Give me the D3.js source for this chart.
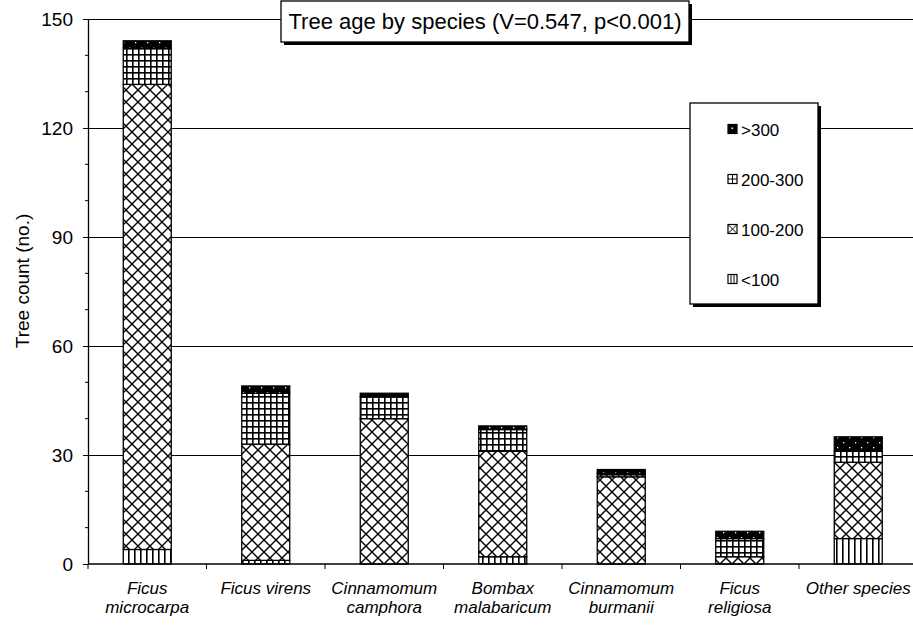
<!DOCTYPE html>
<html>
<head>
<meta charset="utf-8">
<script src="https://cdn.jsdelivr.net/npm/d3@7/dist/d3.min.js"></script>
<style>
  html, body { margin: 0; padding: 0; background: #fff; }
  svg { display: block; font-family: "Liberation Sans", Arial, Helvetica, sans-serif; }
</style>
</head>
<body>
<svg id="chart" width="913" height="625"></svg>
<script>
// Species (each label split into display lines with "|")
const categories = [
  "Ficus|microcarpa", "Ficus virens", "Cinnamomum|camphora", "Bombax|malabaricum",
  "Cinnamomum|burmanii", "Ficus|religiosa", "Other species"
];
// Age classes, bottom to top of each stack
const ageClasses = ["<100", "100-200", "200-300", ">300"];
// Tree counts per age class, one entry per species
const under100   = [4, 1, 0, 2, 0, 0, 7];
const age100_200 = [128, 32, 40, 29, 24, 2, 21];
const age200_300 = [10, 14, 6, 6, 1, 5, 3];
const over300    = [2, 2, 1, 1, 1, 2, 4];
const yTicks = [0, 30, 60, 90, 120, 150];
const yMinorTicks = [10, 20, 40, 50, 70, 80, 100, 110, 130, 140];
const titleText = "Tree age by species (V=0.547, p<0.001)";
const yLabel = "Tree count (no.)";

const rows = categories.map((c, i) => ({
  cat: c,
  "<100": under100[i],
  "100-200": age100_200[i],
  "200-300": age200_300[i],
  ">300": over300[i]
}));

const svg = d3.select("#chart");
const plot = { left: 88, right: 917.5, top: 19, bottom: 564 };

const x = d3.scaleBand().domain(categories).range([plot.left, plot.right])
  .paddingInner(0.595).paddingOuter(0.2975);
const y = d3.scaleLinear().domain([0, 150]).range([plot.bottom, plot.top]);

// Hatch patterns for the age classes
const defs = svg.append("defs");
const pVert = defs.append("pattern").attr("id", "pat-vert")
  .attr("patternUnits", "userSpaceOnUse").attr("width", 6).attr("height", 10);
pVert.append("rect").attr("width", 6).attr("height", 10).attr("fill", "#fff");
pVert.append("rect").attr("x", 2).attr("width", 1.6).attr("height", 10).attr("fill", "#000");

const pCross = defs.append("pattern").attr("id", "pat-cross")
  .attr("patternUnits", "userSpaceOnUse").attr("width", 12).attr("height", 12);
pCross.append("rect").attr("width", 12).attr("height", 12).attr("fill", "#fff");
pCross.append("path")
  .attr("d", "M-1,-1L13,13M13,-1L-1,13")
  .attr("stroke", "#000").attr("stroke-width", 1.4).attr("fill", "none");

const pGrid = defs.append("pattern").attr("id", "pat-grid")
  .attr("patternUnits", "userSpaceOnUse").attr("width", 6).attr("height", 6);
pGrid.append("rect").attr("width", 6).attr("height", 6).attr("fill", "#fff");
pGrid.append("rect").attr("width", 6).attr("height", 1.6).attr("fill", "#000");
pGrid.append("rect").attr("width", 1.6).attr("height", 6).attr("fill", "#000");

const pDots = defs.append("pattern").attr("id", "pat-dots")
  .attr("patternUnits", "userSpaceOnUse").attr("width", 12).attr("height", 10);
pDots.append("rect").attr("width", 12).attr("height", 10).attr("fill", "#000");
pDots.append("rect").attr("x", 3).attr("y", 2).attr("width", 1.3).attr("height", 1.3).attr("fill", "#fff");
pDots.append("rect").attr("x", 9).attr("y", 7).attr("width", 1.3).attr("height", 1.3).attr("fill", "#fff");

const fills = {
  "<100": "url(#pat-vert)",
  "100-200": "url(#pat-cross)",
  "200-300": "url(#pat-grid)",
  ">300": "url(#pat-dots)"
};

// Horizontal gridlines
svg.append("g").selectAll("line").data(yTicks.filter(d => d > 0)).join("line")
  .attr("x1", plot.left).attr("x2", plot.right)
  .attr("y1", d => Math.round(y(d)) + 0.5).attr("y2", d => Math.round(y(d)) + 0.5)
  .attr("stroke", "#000").attr("stroke-width", 1.2);

// Stacked bars
const series = d3.stack().keys(ageClasses)(rows);
svg.append("g").selectAll("g").data(series).join("g")
  .attr("fill", s => fills[s.key])
  .selectAll("rect").data(s => s.filter(d => d[1] > d[0])).join("rect")
  .attr("x", d => x(d.data.cat))
  .attr("width", x.bandwidth())
  .attr("y", d => y(d[1]))
  .attr("height", d => y(d[0]) - y(d[1]))
  .attr("stroke", "#000").attr("stroke-width", 1.3);

// Y axis with major and minor ticks
const yAxis = svg.append("g").attr("transform", `translate(${plot.left},0)`)
  .call(d3.axisLeft(y).tickValues(yTicks).tickSize(5).tickPadding(10).tickSizeOuter(0));
yAxis.select(".domain").attr("stroke-width", 1.3);
yAxis.selectAll("text").attr("font-size", 19).attr("fill", "#000")
  .attr("font-family", "'Liberation Sans', Arial, sans-serif");
svg.append("g").selectAll("line").data(yMinorTicks).join("line")
  .attr("x1", plot.left - 3).attr("x2", plot.left)
  .attr("y1", d => y(d)).attr("y2", d => y(d))
  .attr("stroke", "#000").attr("stroke-width", 1);

// X axis baseline and ticks at the category boundaries
const gap = (x.step() - x.bandwidth()) / 2;
const boundaries = categories.map(c => x(c) - gap).concat([plot.right]);
svg.append("line")
  .attr("x1", plot.left).attr("x2", plot.right)
  .attr("y1", y(0)).attr("y2", y(0))
  .attr("stroke", "#000").attr("stroke-width", 1.5);
svg.append("g").selectAll("line").data(boundaries).join("line")
  .attr("x1", d => d).attr("x2", d => d)
  .attr("y1", y(0)).attr("y2", y(0) + 5)
  .attr("stroke", "#000").attr("stroke-width", 1);

// Category labels (italic, up to two lines)
const catLabels = svg.append("g").attr("font-size", 17).attr("font-style", "italic")
  .attr("text-anchor", "middle").attr("fill", "#000");
categories.forEach(c => {
  const t = catLabels.append("text")
    .attr("x", x(c) + x.bandwidth() / 2).attr("y", 594);
  c.split("|").forEach((line, i) => {
    t.append("tspan").attr("x", x(c) + x.bandwidth() / 2)
      .attr("dy", i === 0 ? 0 : 19).text(line);
  });
});

// Y axis title
svg.append("text")
  .attr("transform", "translate(29,281) rotate(-90)")
  .attr("text-anchor", "middle").attr("font-size", 19).attr("fill", "#000")
  .text(yLabel);

// Title box with drop shadow
const tb = { x: 281, y: 1, w: 408, h: 41 };
svg.append("rect").attr("x", tb.x + 3).attr("y", tb.y + 3).attr("width", tb.w).attr("height", tb.h).attr("fill", "#000");
svg.append("rect").attr("x", tb.x).attr("y", tb.y).attr("width", tb.w).attr("height", tb.h)
  .attr("fill", "#fff").attr("stroke", "#000").attr("stroke-width", 1.3);
svg.append("text").attr("x", tb.x + tb.w / 2).attr("y", tb.y + 28)
  .attr("text-anchor", "middle").attr("font-size", 22).attr("fill", "#000")
  .text(titleText);

// Legend box with drop shadow, entries listed top to bottom
const lb = { x: 690, y: 103, w: 128, h: 201 };
svg.append("rect").attr("x", lb.x + 3).attr("y", lb.y + 3).attr("width", lb.w).attr("height", lb.h).attr("fill", "#000");
svg.append("rect").attr("x", lb.x).attr("y", lb.y).attr("width", lb.w).attr("height", lb.h)
  .attr("fill", "#fff").attr("stroke", "#000").attr("stroke-width", 1.3);
const legendOrder = ageClasses.slice().reverse();
const lg = svg.append("g").selectAll("g").data(legendOrder).join("g")
  .attr("transform", (d, i) => `translate(${lb.x + 38},${lb.y + 26 + i * 50})`);

// Small swatches: each hatch drawn at icon scale
const icon = 9;
lg.append("rect").attr("x", 0).attr("y", -icon / 2).attr("width", icon).attr("height", icon)
  .attr("fill", d => d === ">300" ? "#000" : "#fff")
  .attr("stroke", "#000").attr("stroke-width", 1.2);
lg.append("path")
  .attr("d", d => {
    const t = -icon / 2, b = icon / 2, m = icon / 2;
    if (d === "200-300") return `M${m},${t}V${b}M0,0H${icon}`;
    if (d === "100-200") return `M0,${t}L${icon},${b}M${icon},${t}L0,${b}`;
    if (d === "<100") return `M${icon / 3},${t}V${b}M${2 * icon / 3},${t}V${b}`;
    return "";
  })
  .attr("stroke", "#000").attr("stroke-width", 1).attr("fill", "none");
lg.filter(d => d === ">300").append("rect")
  .attr("x", 3.5).attr("y", -1.5).attr("width", 1.6).attr("height", 1.6).attr("fill", "#fff");
lg.append("text").attr("x", 13).attr("y", 6.5).attr("font-size", 17).attr("fill", "#000")
  .text(d => d);
</script>
</body>
</html>
